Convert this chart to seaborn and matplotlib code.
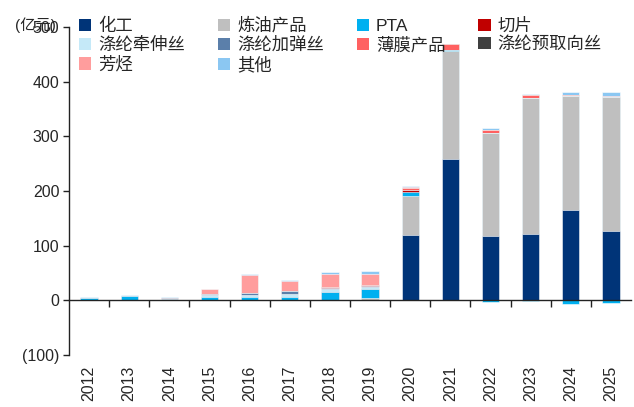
import matplotlib
matplotlib.use("Agg")
import numpy as np
import pandas as pd
import matplotlib.pyplot as plt
from matplotlib.patches import Patch
from matplotlib.ticker import FuncFormatter, FixedLocator
import seaborn as sns

# Data (亿元)
years = [str(y) for y in range(2012, 2026)]
chem = [1, 0.5, 1, 1, 1, 1, 1, 0, 119, 258, 117, 122, 165, 127]
refined = [0, 0, 0, 0, 0, 0, 0, 5, 71, 199, 190, 249, 208, 245]
pta = [4, 7, 0, 6, 6, 6, 15, 16, 8, 1, -3, -2, -6, -4]
chips = [0, 0, 0, 0, 0, 0, 0, 0, 3, 0, 0, 0, 0, 0]
fdy = [0, 0, 1, 2.5, 3.5, 5, 4, 3, 0, 0, 0, 0, 0, 0]
dty = [0, 0, 3, 1.5, 3, 5, 2.5, 2.5, 0, 0, 0, 0, 0, 0]
film = [0, 0, 0, 0, 0, 0, 2.5, 2, 4, 11, 4, 4, 2, 0]
poy = [0, 0, 0, 0, 0, 0, 0, 0, 0, 0, 0, 0, 0, 0]
aromatics = [0, 0, 0, 9, 33, 18, 24, 20, 2, 0, 0, 0, 0, 2]
other = [1, 1.5, 2, 0.5, 1, 3, 3, 5, 3, 0, 5, 2, 7, 7]

series_names = ["化工", "炼油产品", "PTA", "切片", "涤纶牵伸丝",
                "涤纶加弹丝", "薄膜产品", "涤纶预取向丝", "芳烃", "其他"]
series_values = [chem, refined, pta, chips, fdy, dty, film, poy, aromatics, other]
colors = ["#003478", "#BFBFBF", "#00B0F0", "#C00000", "#C5E9F8",
          "#5B7FAA", "#FF6161", "#404040", "#FF9D9D", "#8BC7F2"]

sns.set_style("white")
plt.rcParams["font.family"] = ["Liberation Sans", "Noto Sans CJK SC"]

fig = plt.figure(figsize=(6.34, 4.07), dpi=100)
ax = fig.add_axes([69 / 634, 1 - 355 / 407, 562 / 634, 328 / 407])

# stacked positives: draw cumulative totals from the top series down
pos = np.clip(np.array(series_values, dtype=float), 0, None)
cum = np.cumsum(pos, axis=0)
for i in range(len(series_names) - 1, -1, -1):
    df = pd.DataFrame({"year": years, "value": cum[i]})
    sns.barplot(data=df, x="year", y="value", color=colors[i], saturation=1,
                width=0.43, errorbar=None, edgecolor="white", linewidth=0.4, ax=ax)

# negative PTA values below zero
neg = np.clip(np.array(pta, dtype=float), None, 0)
sns.barplot(x=years, y=neg, color=colors[2], saturation=1, width=0.43,
            errorbar=None, edgecolor="white", linewidth=0.4, ax=ax)

ax.set_ylim(-100, 500)
ax.set_xlim(-0.5, 13.5)
ax.set_xlabel("")
ax.set_ylabel("")
ax.set_yticks(range(-100, 501, 100))
ax.yaxis.set_major_formatter(
    FuncFormatter(lambda v, p: f"({abs(int(v))})" if v < 0 else f"{int(v)}"))

for s in ["top", "right"]:
    ax.spines[s].set_visible(False)
ax.spines["bottom"].set_position(("data", 0))
for s in ["left", "bottom"]:
    ax.spines[s].set_color("#222222")
    ax.spines[s].set_linewidth(1.0)

ax.xaxis.set_minor_locator(FixedLocator(np.arange(0.5, 13.0, 1)))
ax.tick_params(axis="x", which="major", length=0, pad=47, labelsize=11.5,
               labelrotation=90)
ax.tick_params(axis="x", which="minor", length=5, width=1, direction="out",
               color="#222222", bottom=True)
ax.tick_params(axis="y", which="major", length=4, width=1, direction="out",
               color="#222222", left=True, labelsize=11.5, pad=3)

fig.text(15 / 634, 1 - 25 / 407, "(亿元)", fontsize=11, va="center", ha="left")

# legend laid out to match the reference column fill
order = [0, 4, 8, 1, 5, 9, 2, 6, 3, 7]
handles = [Patch(facecolor=colors[i], edgecolor="none") for i in order]
labels = [series_names[i] for i in order]
fig.legend(handles, labels, ncol=4, loc="upper left",
           bbox_to_anchor=(79 / 634, 1 - 17 / 407), frameon=False,
           fontsize=12.5, handlelength=0.7, handleheight=0.7,
           handletextpad=0.4, columnspacing=1.9, labelspacing=0.18,
           borderaxespad=0, borderpad=0)

fig.savefig("out.png", dpi=100)
